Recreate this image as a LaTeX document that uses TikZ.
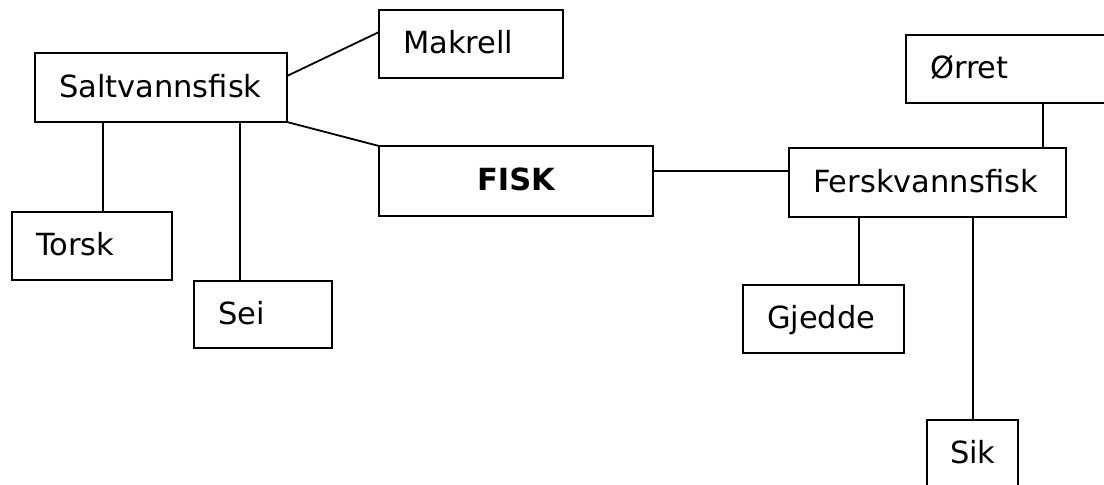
\documentclass[tikz,border=0pt]{standalone}
\usepackage{fontspec}
\setmainfont{DejaVu Sans}
\begin{document}
\begin{tikzpicture}[x=1pt,y=-1pt,
  box/.style={draw, line width=1.9pt, rectangle, anchor=north west,
    inner xsep=24pt, inner ysep=0pt, outer sep=0pt, align=left,
    text height=24.5pt, text depth=5.5pt, font=\fontsize{30.5}{36}\selectfont},
  link/.style={line width=1.8pt}]
\useasboundingbox (0,0) rectangle (1104,485);
\clip (0,0) rectangle (1104,485);
% boxes
\node[box, minimum width=252pt, minimum height=69pt, text width=204pt] (salt) at (35,53) {Saltvannsfisk};
\node[box, minimum width=184pt, minimum height=68pt, text width=136pt] (mak) at (379,10) {Makrell};
\node[box, minimum width=274pt, minimum height=70pt, text width=226pt, align=center,
      font=\fontsize{30.5}{36}\selectfont\bfseries] (fisk) at (379,146) {FISK};
\node[box, minimum width=277pt, minimum height=69pt, text width=229pt] (fersk) at (789,148) {Ferskvannsfisk};
\node[box, minimum width=234pt, minimum height=68pt, text width=186pt] (orret) at (906,35) {Ørret};
\node[box, minimum width=160pt, minimum height=68pt, text width=112pt] (torsk) at (12,212) {Torsk};
\node[box, minimum width=138pt, minimum height=67pt, text width=90pt] (sei) at (194,281) {Sei};
\node[box, minimum width=161pt, minimum height=68pt, text width=113pt] (gjedde) at (743,285) {Gjedde};
\node[box, minimum width=91pt, minimum height=68pt, text width=45pt, inner xsep=23pt] (sik) at (927,420) {Sik};
% connectors
\draw[link] ([yshift=11.5pt]salt.east) -- ([yshift=12pt]mak.west);
\draw[link] (salt.south east) -- (fisk.north west);
\draw[link] ([xshift=68pt]salt.south west) -- ([xshift=68pt]salt.south west |- torsk.north);
\draw[link] ([xshift=205pt]salt.south west) -- ([xshift=205pt]salt.south west |- sei.north);
\draw[link] ([yshift=10pt]fisk.east) -- ([yshift=10pt]fisk.east -| fersk.west);
\draw[link] ([xshift=254pt]fersk.north west) -- ([xshift=254pt]fersk.north west |- orret.south);
\draw[link] ([xshift=70pt]fersk.south west) -- ([xshift=70pt]fersk.south west |- gjedde.north);
\draw[link] ([xshift=184pt]fersk.south west) -- ([xshift=184pt]fersk.south west |- sik.north);
\end{tikzpicture}
\end{document}
